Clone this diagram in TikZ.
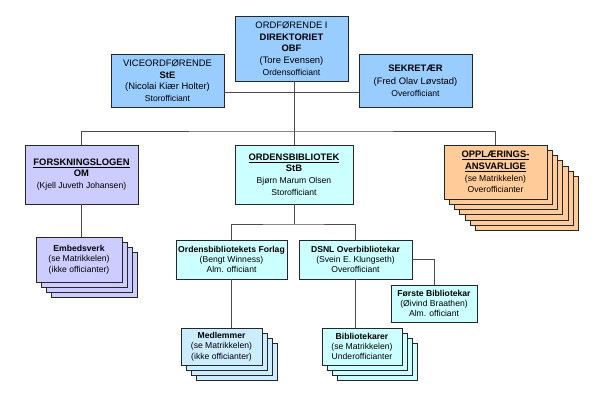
\documentclass[tikz,border=0pt]{standalone}
\usepackage{fontspec}
\setmainfont{Liberation Sans}
\usepackage{tikz}
\usetikzlibrary{calc}
\definecolor{topblue}{RGB}{153, 204, 255}
\definecolor{lodgeblue}{RGB}{204, 204, 255}
\definecolor{libcyan}{RGB}{204, 255, 255}
\definecolor{memberblue}{RGB}{204, 236, 255}
\definecolor{trainorange}{RGB}{255, 204, 153}
\newcommand{\smalltxt}{\fontsize{8.6}{10.4}\selectfont}

\begin{document}
\begin{tikzpicture}[x=1pt, y=1pt,
  obox/.style={draw=black!85, line width=0.9pt, align=center, inner sep=1pt, font=\fontsize{9.4}{11.6}\selectfont},
  subbox/.style={obox, font=\smalltxt},
  link/.style={draw=black!70, line width=0.9pt},
  chiefbox/.style={obox, fill=topblue, minimum width=113, minimum height=53},
  lodgebox/.style={obox, fill=lodgeblue, minimum width=113, minimum height=59},
  embbox/.style={subbox, fill=lodgeblue, minimum width=86, minimum height=45},
  trainbox/.style={obox, fill=trainorange, minimum width=103, minimum height=54},
  libbox/.style={subbox, fill=libcyan, minimum width=112, minimum height=39},
  memberbox/.style={subbox, fill=memberblue, minimum width=81, minimum height=37},
  clerkbox/.style={subbox, fill=libcyan, minimum width=80, minimum height=37}
]
  \useasboundingbox (0,0) rectangle (600,-400);

  % top level
  \node[chiefbox, minimum height=65] (chair) at (291.5,-48.5) {ORDFØRENDE I\\\textbf{DIREKTORIET}\\\textbf{OBF}\\(Tore Evensen)\\{\smalltxt Ordensofficiant}};
  \node[chiefbox] (vice) at (167.5,-80.5) {VICEORDFØRENDE\\\textbf{StE}\\(Nicolai Kiær Holter)\\{\smalltxt Storofficiant}};
  \node[chiefbox] (secr) at (415.5,-80.5) {\textbf{SEKRETÆR}\\[1.5pt](Fred Olav Løvstad)\\{\smalltxt Overofficiant}};

  % second level
  \node[lodgebox] (lodge) at (81.5,-174.5) {\underline{\textbf{FORSKNINGSLOGEN}}\\\textbf{OM}\\{\smalltxt (Kjell Juveth Johansen)}};
  \node[lodgebox, fill=libcyan, minimum width=118] (library) at (294,-174.5) {\underline{\textbf{ORDENSBIBLIOTEK}}\\\textbf{StB}\\{\smalltxt Bjørn Marum Olsen}\\{\smalltxt Storofficiant}};
  \foreach \k in {6,5,...,1}
    \node[trainbox] (train-\k) at (495.5+\k*5.3,-172-\k*5.3) {};
  \node[trainbox] (train) at (495.5,-172) {\underline{\textbf{OPPLÆRINGS-}}\\\underline{\textbf{ANSVARLIGE}}\\{\smalltxt (se Matrikkelen)}\\{\smalltxt Overofficianter}};

  % third level
  \foreach \k in {3,2,1}
    \node[embbox] (office-\k) at (79+\k*5.3,-259.5-\k*5.3) {};
  \node[embbox] (office) at (79,-259.5) {\textbf{Embedsverk}\\(se Matrikkelen)\\(ikke officianter)};
  \node[libbox, minimum width=111] (press) at (231.5,-259.5) {\textbf{Ordensbibliotekets Forlag}\\(Bengt Winness)\\Alm. officiant};
  \node[libbox, minimum width=113] (headlib) at (355.5,-259.5) {\textbf{DSNL Overbibliotekar}\\(Svein E. Klungseth)\\Overofficiant};
  \node[clerkbox, minimum width=86] (firstlib) at (434,-303.5) {\textbf{Første Bibliotekar}\\(Øivind Braathen)\\Alm. officiant};

  % fourth level
  \foreach \k in {3,2,1}
    \node[memberbox] (members-\k) at (221.5+\k*5.3,-346.5-\k*5.3) {};
  \node[memberbox] (members) at (221.5,-346.5) {\textbf{Medlemmer}\\(se Matrikkelen)\\(ikke officianter)};
  \foreach \k in {3,2,1}
    \node[clerkbox] (clerks-\k) at (362+\k*5.3,-346.5-\k*5.3) {};
  \node[clerkbox] (clerks) at (362,-346.5) {\textbf{Bibliotekarer}\\(se Matrikkelen)\\Underofficianter};

  % connectors
  \coordinate (assist) at (294,-92);
  \coordinate (bus) at (294,-131);
  \coordinate (libbus) at (294,-224);
  \draw[link] (vice.east |- assist) -- (secr.west |- assist);
  \draw[link] (chair.south -| bus) -- (bus);
  \draw[link] (lodge.north) |- (bus) -| (train.north);
  \draw[link] (bus) -- (library.north -| bus);
  \draw[link] (library.south -| libbus) -- (libbus);
  \draw[link] (press.north) |- (libbus) -| (headlib.north);
  \draw[link] (lodge.south) -- (office.north -| lodge.south);
  \draw[link] (headlib.east) -| (firstlib.north);
  \draw[link] (press.south) -- (press.south |- members.north);
  \draw[link] (headlib.south) -- (headlib.south |- clerks.north);
\end{tikzpicture}
\end{document}
